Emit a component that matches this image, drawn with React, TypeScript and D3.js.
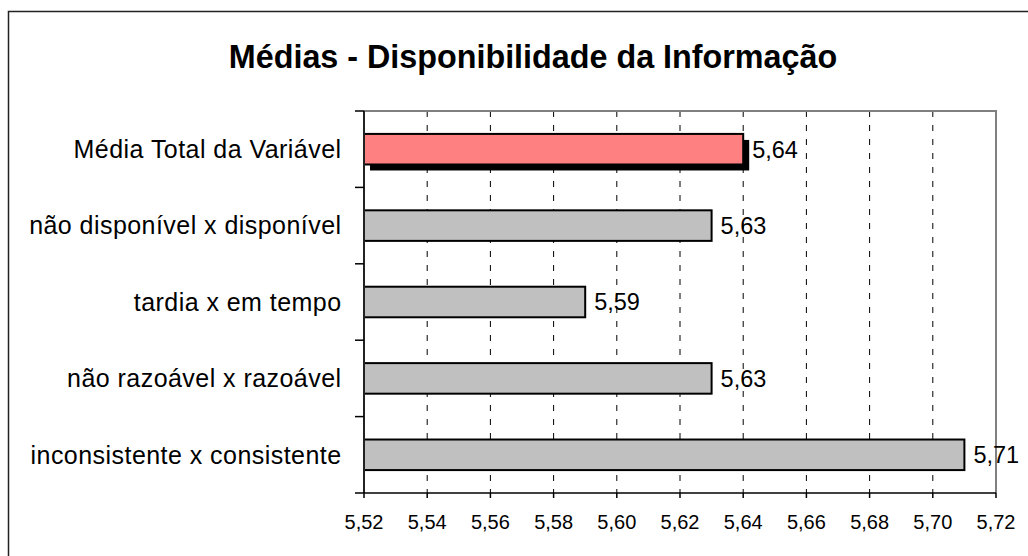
import { useEffect, useRef } from 'react'
import * as d3 from 'd3'

const categories = [
  'Média Total da Variável',
  'não disponível x disponível',
  'tardia x em tempo',
  'não razoável x razoável',
  'inconsistente x consistente',
]
const values = [5.64, 5.63, 5.59, 5.63, 5.71]
const xTicks = [5.52, 5.54, 5.56, 5.58, 5.6, 5.62, 5.64, 5.66, 5.68, 5.7, 5.72]
const title = 'Médias - Disponibilidade da Informação'

export default function App() {
  const svgRef = useRef<SVGSVGElement>(null)

  useEffect(() => {
    const width = 1028, height = 556
    const left = 364, right = 996, top = 111, bottom = 493
    const font = 'Arial, "Liberation Sans", sans-serif'

    const svg = d3.select(svgRef.current)
    svg.selectAll('*').remove()
    svg.attr('width', width).attr('height', height).style('background', '#fff')

    const x = d3.scaleLinear().domain([5.52, 5.72]).range([left, right])
    const y = d3.scaleBand<string>()
      .domain(categories)
      .range([top, bottom])
      .paddingInner(0.6)
      .paddingOuter(0.3)

    // outer chart frame (runs off the picture right/bottom)
    svg.append('rect')
      .attr('x', 8.5).attr('y', 11.5)
      .attr('width', 1040).attr('height', 560)
      .attr('fill', 'none')
      .attr('stroke', '#222')
      .attr('stroke-width', 1.5)

    svg.append('text')
      .text(title)
      .attr('x', 533).attr('y', 68)
      .attr('text-anchor', 'middle')
      .attr('font-family', font)
      .attr('font-weight', 'bold')
      .attr('font-size', '32.3px')
      .attr('fill', '#000')

    // dashed gridlines
    xTicks.slice(1, -1).forEach(t => {
      svg.append('line')
        .attr('x1', x(t)).attr('x2', x(t))
        .attr('y1', top).attr('y2', bottom)
        .attr('stroke', '#000')
        .attr('stroke-width', 1)
        .attr('stroke-dasharray', '6 8')
    })

    // plot area border top/right
    svg.append('path')
      .attr('d', `M${left},${top}H${right}V${bottom}`)
      .attr('fill', 'none')
      .attr('stroke', '#808080')
      .attr('stroke-width', 2)

    // shadow for the total bar
    svg.append('rect')
      .attr('x', left + 6)
      .attr('y', y(categories[0])! + 6)
      .attr('width', x(values[0]) - left)
      .attr('height', y.bandwidth())
      .attr('fill', '#000')

    categories.forEach((c, i) => {
      svg.append('rect')
        .attr('x', left)
        .attr('y', y(c)!)
        .attr('width', x(values[i]) - left)
        .attr('height', y.bandwidth())
        .attr('fill', i === 0 ? '#FF8080' : '#C0C0C0')
        .attr('stroke', '#000')
        .attr('stroke-width', 2)

      const cy = y(c)! + y.bandwidth() / 2
      svg.append('text')
        .text(d3.format('.2f')(values[i]).replace('.', ','))
        .attr('x', x(values[i]) + 9)
        .attr('y', cy + 8.3)
        .attr('font-family', font)
        .attr('font-size', '23.5px')
        .attr('fill', '#000')

      svg.append('text')
        .text(c)
        .attr('x', 341.5)
        .attr('y', cy + 8.8)
        .attr('text-anchor', 'end')
        .attr('font-family', font)
        .attr('font-size', '25px')
        .attr('letter-spacing', '0.45px')
        .attr('fill', '#000')
    })

    // category axis
    svg.append('line')
      .attr('x1', left).attr('x2', left)
      .attr('y1', top).attr('y2', bottom)
      .attr('stroke', '#222').attr('stroke-width', 2)
    for (let i = 0; i <= categories.length; i++) {
      const ty = top + i * y.step()
      svg.append('line')
        .attr('x1', left - 9).attr('x2', left)
        .attr('y1', ty).attr('y2', ty)
        .attr('stroke', '#000').attr('stroke-width', 1.5)
    }

    // value axis
    svg.append('line')
      .attr('x1', left).attr('x2', right)
      .attr('y1', bottom).attr('y2', bottom)
      .attr('stroke', '#000').attr('stroke-width', 1.5)
    xTicks.forEach(t => {
      svg.append('line')
        .attr('x1', x(t)).attr('x2', x(t))
        .attr('y1', bottom).attr('y2', bottom + 5)
        .attr('stroke', '#000').attr('stroke-width', 1.5)
      svg.append('text')
        .text(d3.format('.2f')(t).replace('.', ','))
        .attr('x', x(t))
        .attr('y', 529)
        .attr('text-anchor', 'middle')
        .attr('font-family', font)
        .attr('font-size', '20px')
        .attr('fill', '#000')
    })
  }, [])

  return (
    <div style={{ position: 'fixed', left: 0, top: 0 }}>
      <svg ref={svgRef} style={{ display: 'block' }} />
    </div>
  )
}
